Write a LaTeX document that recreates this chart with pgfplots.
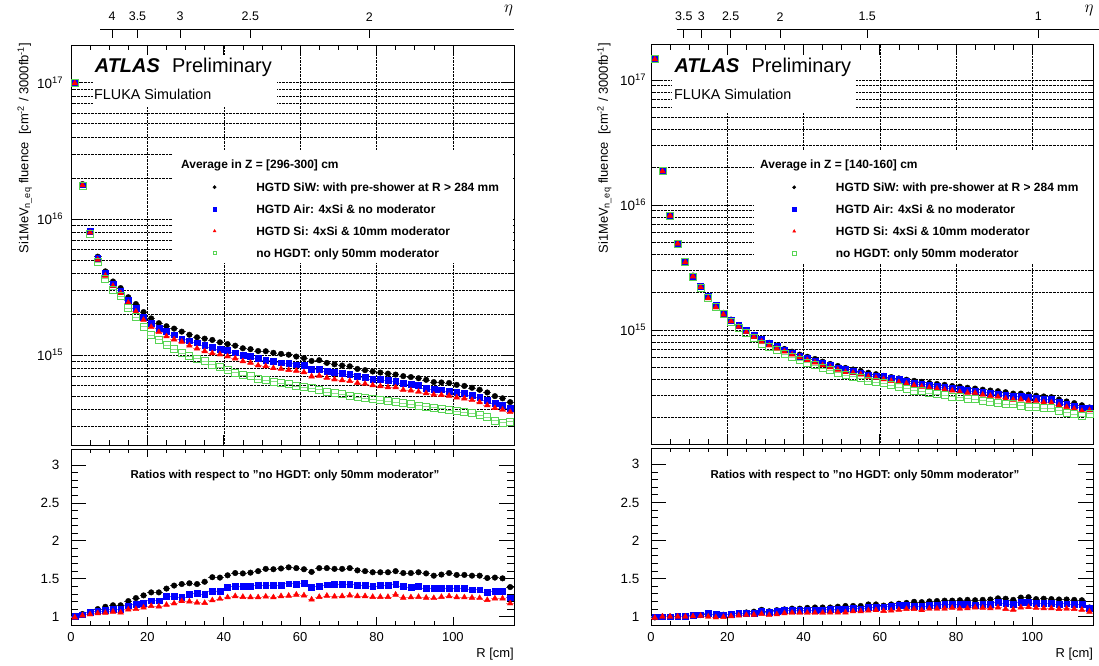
\documentclass[border=0pt]{standalone}
\usepackage{fontspec}
\setmainfont{Liberation Sans}
\usepackage{pgfplots}
\usepackage{pgfplotstable}
\pgfplotsset{compat=1.18}

\definecolor{rootgreen}{RGB}{89,212,84}
\newcommand\fsz[1]{\fontsize{#1}{#1}\selectfont}

% fluence in units of 1e15 cm^-2 / 3000 fb^-1
% g = no HGTD, k = HGTD SiW, b = HGTD Air, r = HGTD Si ; qk qb qr = ratios to g
\pgfplotstableread{
R g k b r qk qb qr
1 100 100 101 99 1.0 1.01 0.99
3 17.4 18.0 17.8 17.66 1.035 1.025 1.015
5 7.7 8.16 8.12 7.93 1.06 1.055 1.03
7 4.8 5.28 5.14 5.02 1.10 1.07 1.045
9 3.65 4.12 3.98 3.83 1.13 1.09 1.05
11 3.02 3.47 3.32 3.22 1.15 1.10 1.065
13 2.70 3.105 2.97 2.85 1.15 1.10 1.055
15 2.21 2.66 2.53 2.42 1.205 1.145 1.095
17 1.90 2.37 2.20 2.09 1.245 1.16 1.10
19 1.62 2.07 1.91 1.814 1.28 1.18 1.12
21 1.41 1.86 1.706 1.607 1.32 1.21 1.14
23 1.30 1.716 1.573 1.476 1.32 1.21 1.135
25 1.19 1.63 1.505 1.374 1.37 1.265 1.155
27 1.11 1.565 1.41 1.304 1.41 1.27 1.175
29 1.04 1.487 1.305 1.253 1.43 1.255 1.205
31 0.98 1.411 1.274 1.176 1.44 1.30 1.20
33 0.945 1.351 1.233 1.12 1.43 1.305 1.185
35 0.905 1.321 1.177 1.068 1.46 1.30 1.18
37 0.85 1.292 1.139 1.033 1.52 1.34 1.215
39 0.82 1.242 1.099 1.013 1.515 1.34 1.235
41 0.78 1.205 1.08 0.979 1.545 1.385 1.255
43 0.745 1.173 1.043 0.946 1.575 1.40 1.27
45 0.715 1.123 1.001 0.901 1.57 1.40 1.26
47 0.70 1.106 0.98 0.879 1.58 1.40 1.255
49 0.67 1.072 0.945 0.841 1.60 1.41 1.255
51 0.655 1.068 0.924 0.829 1.63 1.41 1.265
53 0.64 1.04 0.902 0.803 1.625 1.41 1.255
55 0.625 1.022 0.881 0.794 1.635 1.41 1.27
57 0.61 1.007 0.875 0.778 1.65 1.435 1.275
59 0.595 0.976 0.851 0.768 1.64 1.43 1.29
61 0.585 0.951 0.845 0.749 1.625 1.445 1.28
63 0.57 0.906 0.789 0.698 1.59 1.385 1.225
65 0.56 0.918 0.787 0.706 1.64 1.405 1.26
67 0.535 0.877 0.76 0.682 1.64 1.42 1.275
69 0.525 0.856 0.751 0.664 1.63 1.43 1.265
71 0.515 0.839 0.734 0.654 1.63 1.425 1.27
73 0.505 0.828 0.72 0.646 1.64 1.425 1.28
75 0.492 0.792 0.696 0.625 1.61 1.415 1.27
77 0.485 0.776 0.686 0.616 1.60 1.415 1.27
79 0.478 0.758 0.669 0.602 1.585 1.40 1.26
81 0.47 0.745 0.663 0.592 1.585 1.41 1.26
83 0.462 0.732 0.651 0.582 1.585 1.41 1.26
85 0.45 0.72 0.644 0.581 1.60 1.43 1.29
87 0.445 0.701 0.623 0.556 1.575 1.40 1.25
89 0.438 0.69 0.609 0.55 1.575 1.39 1.255
91 0.427 0.677 0.598 0.538 1.585 1.40 1.26
93 0.42 0.659 0.575 0.525 1.57 1.37 1.25
95 0.412 0.634 0.564 0.513 1.54 1.37 1.245
97 0.405 0.630 0.557 0.51 1.555 1.375 1.26
99 0.397 0.625 0.546 0.504 1.575 1.375 1.27
101 0.39 0.605 0.536 0.489 1.55 1.375 1.255
103 0.383 0.594 0.525 0.481 1.55 1.37 1.255
105 0.374 0.576 0.507 0.468 1.54 1.355 1.25
107 0.362 0.557 0.491 0.451 1.54 1.355 1.245
109 0.352 0.532 0.465 0.429 1.51 1.32 1.22
111 0.33 0.50 0.442 0.409 1.515 1.34 1.24
113 0.32 0.482 0.429 0.397 1.505 1.34 1.24
115 0.325 0.452 0.406 0.382 1.39 1.25 1.175
}\fluL

\pgfplotstableread{
R g k b r qk qb qr
1 148 147 148 146 0.99 1.0 0.985
3 18.6 18.6 18.6 18.6 1.0 1.0 1.0
5 8.2 8.2 8.2 8.2 1.0 1.0 1.0
7 4.9 4.9 4.92 4.9 1.0 1.005 1.0
9 3.48 3.5 3.51 3.48 1.005 1.01 1.0
11 2.67 2.72 2.71 2.68 1.02 1.015 1.005
13 2.18 2.22 2.23 2.20 1.02 1.025 1.01
15 1.795 1.84 1.867 1.795 1.025 1.04 1.0
17 1.53 1.57 1.584 1.515 1.025 1.035 0.99
19 1.337 1.37 1.37 1.33 1.025 1.025 0.995
21 1.169 1.21 1.204 1.175 1.035 1.03 1.005
23 1.043 1.09 1.09 1.059 1.045 1.045 1.015
25 0.943 0.995 0.99 0.962 1.055 1.05 1.02
27 0.859 0.915 0.902 0.88 1.065 1.05 1.025
29 0.78 0.85 0.839 0.807 1.09 1.075 1.035
31 0.738 0.79 0.782 0.753 1.07 1.06 1.02
33 0.691 0.75 0.739 0.712 1.085 1.07 1.03
35 0.644 0.705 0.696 0.673 1.095 1.08 1.045
37 0.606 0.67 0.658 0.636 1.105 1.085 1.05
39 0.575 0.635 0.621 0.604 1.105 1.08 1.05
41 0.547 0.61 0.596 0.574 1.115 1.09 1.05
43 0.523 0.586 0.567 0.549 1.12 1.085 1.05
45 0.498 0.558 0.543 0.523 1.12 1.09 1.05
47 0.478 0.535 0.523 0.504 1.12 1.095 1.055
49 0.456 0.515 0.499 0.481 1.13 1.095 1.055
51 0.436 0.497 0.482 0.46 1.14 1.105 1.055
53 0.424 0.483 0.471 0.454 1.14 1.11 1.07
55 0.412 0.47 0.455 0.441 1.14 1.105 1.07
57 0.392 0.455 0.439 0.423 1.16 1.12 1.08
59 0.382 0.443 0.428 0.414 1.16 1.12 1.085
61 0.376 0.43 0.425 0.404 1.145 1.13 1.075
63 0.362 0.42 0.411 0.391 1.16 1.135 1.08
65 0.35 0.41 0.403 0.382 1.17 1.15 1.09
67 0.339 0.40 0.39 0.373 1.18 1.15 1.10
69 0.328 0.392 0.374 0.361 1.195 1.14 1.10
71 0.324 0.385 0.369 0.352 1.19 1.14 1.085
73 0.313 0.376 0.362 0.346 1.20 1.155 1.105
75 0.307 0.37 0.355 0.339 1.205 1.155 1.105
77 0.301 0.364 0.349 0.333 1.21 1.16 1.105
79 0.294 0.356 0.341 0.328 1.21 1.16 1.115
81 0.29 0.352 0.336 0.32 1.215 1.16 1.105
83 0.283 0.345 0.328 0.314 1.22 1.16 1.11
85 0.28 0.34 0.323 0.314 1.215 1.155 1.12
87 0.273 0.333 0.318 0.304 1.22 1.165 1.115
89 0.268 0.328 0.312 0.297 1.225 1.165 1.11
91 0.261 0.324 0.309 0.292 1.24 1.185 1.12
93 0.257 0.318 0.302 0.283 1.235 1.175 1.10
95 0.254 0.31 0.296 0.277 1.22 1.165 1.09
97 0.248 0.31 0.295 0.278 1.25 1.19 1.12
99 0.242 0.304 0.288 0.272 1.255 1.19 1.125
101 0.242 0.298 0.286 0.27 1.23 1.18 1.115
103 0.238 0.294 0.281 0.264 1.235 1.18 1.11
105 0.236 0.29 0.278 0.262 1.23 1.18 1.11
107 0.227 0.278 0.264 0.25 1.225 1.165 1.10
109 0.219 0.268 0.256 0.242 1.225 1.17 1.105
111 0.213 0.26 0.248 0.234 1.22 1.165 1.10
113 0.206 0.25 0.239 0.225 1.215 1.16 1.09
115 0.214 0.24 0.238 0.228 1.12 1.11 1.065
}\fluR

\pgfplotsset{
  hgtdk/.style={only marks, black, mark=*, mark size=2.8bp,
      error bars/x dir=both, error bars/x fixed=1, error bars/error mark=none,
      error bars/error bar style={line width=0.5bp, black!70}},
  hgtdb/.style={only marks, blue, mark=square*, mark size=2.9bp,
      error bars/x dir=both, error bars/x fixed=1, error bars/error mark=none,
      error bars/error bar style={line width=0.5bp, blue!60}},
  hgtdr/.style={only marks, red, mark=triangle*, mark size=3.3bp,
      error bars/x dir=both, error bars/x fixed=1, error bars/error mark=none,
      error bars/error bar style={line width=0.5bp, red!50}},
  hgtdg/.style={only marks, rootgreen, mark=square, mark size=3.5bp,
      mark options={line width=0.8bp},
      error bars/x dir=both, error bars/x fixed=1, error bars/error mark=none,
      error bars/error bar style={line width=0.5bp, rootgreen!70}},
}

\begin{document}
\begin{tikzpicture}
\path[use as bounding box] (0,0) rectangle (1099bp,666bp);

% ---------- left: Z = [296-300] cm ----------
\begin{axis}[ymode=log, scale only axis, width=443bp, height=400bp,
    at={(71bp,221bp)}, anchor=south west,
    xmin=0, xmax=116, ymin=0.219, ymax=188.8,
    xtick={0,20,40,60,80,100}, xticklabels={}, minor x tick num=3,
    ytick={1,10,100},
    yticklabels={10\textsuperscript{15},10\textsuperscript{16},10\textsuperscript{17}},
    minor ytick={0.3,0.4,0.5,0.6,0.7,0.8,0.9,2,3,4,5,6,7,8,9,20,30,40,50,60,70,80,90},
    yticklabel style={font=\fsz{13.5}, inner sep=0pt, xshift=-7.7bp},
    axis line style={line width=0.9bp},
    tick style={line width=0.6bp, black}, tick align=inside,
    major tick length=10bp, minor tick length=5bp,
    xmajorgrids, ymajorgrids, yminorgrids,
    major grid style={densely dotted, line width=0.5bp, black},
    minor grid style={densely dotted, line width=0.5bp, black},
    legend cell align=left,
    legend image post style={mark size=1.7bp, yshift=1bp},
    legend style={draw=none, fill=none, inner sep=0pt, anchor=north west,
      at={(0.3199,0.6565)}, column sep=40bp, row sep=10.9bp,
      nodes={inner sep=0pt, text height=8.6bp, text depth=2.5bp, font=\bfseries\fsz{12}},
      cells={anchor=west}}]
  % white backgrounds of the label and legend boxes
  \fill[white] (axis cs:5.75,158.6) rectangle (axis cs:53.9,65.9);
  \fill[white] (axis cs:26.7,31.8) rectangle (axis cs:115.8,4.72);
  \addplot[hgtdk] table[x=R,y=k]{\fluL};
  \addlegendentry{HGTD SiW: with pre-shower at R > 284 mm}
  \addplot[hgtdb] table[x=R,y=b]{\fluL};
  \addlegendentry{HGTD Air: 4xSi \& no moderator}
  \addplot[hgtdr] table[x=R,y=r]{\fluL};
  \addlegendentry{HGTD Si: 4xSi \& 10mm moderator}
  \addplot[hgtdg] table[x=R,y=g]{\fluL};
  \addlegendentry{no HGDT: only 50mm moderator}
\end{axis}

\begin{axis}[scale only axis, width=443bp, height=176bp,
    at={(71bp,41bp)}, anchor=south west,
    xmin=0, xmax=116, ymin=0.89, ymax=3.21,
    xtick={0,20,40,60,80,100}, xticklabels={0,20,40,60,80,100}, minor x tick num=3,
    ytick={1,1.5,2,2.5,3}, yticklabels={1,1.5,2,2.5,3}, minor y tick num=4,
    axis line style={line width=0.9bp},
    tick style={line width=0.6bp, black}, tick align=inside,
    major tick length=8bp, minor tick length=4bp,
    every major y tick/.append style={/pgfplots/major tick length=15bp},
    every minor y tick/.append style={/pgfplots/minor tick length=7bp},
    xticklabel style={font=\fsz{13}, inner sep=0pt, yshift=-7bp},
    yticklabel style={font=\fsz{13.5}, inner sep=0pt, xshift=-11.5bp}]
  \addplot[hgtdk] table[x=R,y=qk]{\fluL};
  \addplot[hgtdb] table[x=R,y=qb]{\fluL};
  \addplot[hgtdr] table[x=R,y=qr]{\fluL};
\end{axis}

% ---------- right: Z = [140-160] cm ----------
\begin{axis}[ymode=log, scale only axis, width=442.3bp, height=399.3bp,
    at={(651bp,222bp)}, anchor=south west,
    xmin=0, xmax=116, ymin=0.1225, ymax=191,
    xtick={0,20,40,60,80,100}, xticklabels={}, minor x tick num=3,
    ytick={1,10,100},
    yticklabels={10\textsuperscript{15},10\textsuperscript{16},10\textsuperscript{17}},
    minor ytick={0.2,0.3,0.4,0.5,0.6,0.7,0.8,0.9,2,3,4,5,6,7,8,9,20,30,40,50,60,70,80,90},
    yticklabel style={font=\fsz{13.5}, inner sep=0pt, xshift=-4.7bp},
    axis line style={line width=0.9bp},
    tick style={line width=0.6bp, black}, tick align=inside,
    major tick length=10bp, minor tick length=5bp,
    xmajorgrids, ymajorgrids, yminorgrids,
    major grid style={densely dotted, line width=0.5bp, black},
    minor grid style={densely dotted, line width=0.5bp, black},
    legend cell align=left,
    legend image post style={mark size=1.7bp, yshift=1bp},
    legend style={draw=none, fill=none, inner sep=0pt, anchor=north west,
      at={(0.3195,0.6548)}, column sep=40bp, row sep=10.9bp,
      nodes={inner sep=0pt, text height=8.6bp, text depth=2.5bp, font=\bfseries\fsz{12}},
      cells={anchor=west}}]
  % white backgrounds of the label and legend boxes
  \fill[white] (axis cs:5.5,158) rectangle (axis cs:53.7,54.5);
  \fill[white] (axis cs:26.9,27.5) rectangle (axis cs:115.8,3.44);
  \addplot[hgtdk] table[x=R,y=k]{\fluR};
  \addlegendentry{HGTD SiW: with pre-shower at R > 284 mm}
  \addplot[hgtdb] table[x=R,y=b]{\fluR};
  \addlegendentry{HGTD Air: 4xSi \& no moderator}
  \addplot[hgtdr] table[x=R,y=r]{\fluR};
  \addlegendentry{HGTD Si: 4xSi \& 10mm moderator}
  \addplot[hgtdg] table[x=R,y=g]{\fluR};
  \addlegendentry{no HGDT: only 50mm moderator}
\end{axis}

\begin{axis}[scale only axis, width=442.3bp, height=176.7bp,
    at={(651bp,41bp)}, anchor=south west,
    xmin=0, xmax=116, ymin=0.89, ymax=3.21,
    xtick={0,20,40,60,80,100}, xticklabels={0,20,40,60,80,100}, minor x tick num=3,
    ytick={1,1.5,2,2.5,3}, yticklabels={1,1.5,2,2.5,3}, minor y tick num=4,
    axis line style={line width=0.9bp},
    tick style={line width=0.6bp, black}, tick align=inside,
    major tick length=8bp, minor tick length=4bp,
    every major y tick/.append style={/pgfplots/major tick length=15bp},
    every minor y tick/.append style={/pgfplots/minor tick length=7bp},
    xticklabel style={font=\fsz{13}, inner sep=0pt, yshift=-7bp},
    yticklabel style={font=\fsz{13.5}, inner sep=0pt, xshift=-11.5bp}]
  \addplot[hgtdk] table[x=R,y=qk]{\fluR};
  \addplot[hgtdb] table[x=R,y=qb]{\fluR};
  \addplot[hgtdr] table[x=R,y=qr]{\fluR};
\end{axis}

% ---------- texts, eta scales ----------
\begin{scope}[x=1bp,y=1bp]
  \node[anchor=base west, inner sep=0pt, font=\bfseries\itshape\fsz{20}] at (94.7,593.8) {ATLAS};
  \node[anchor=base west, inner sep=0pt, font=\fsz{20}] at (172,593.8) {Preliminary};
  \node[anchor=base west, inner sep=0pt, font=\fsz{14.4}] at (94,566.5) {FLUKA Simulation};
  \node[anchor=base west, inner sep=0pt, font=\bfseries\fsz{12}] at (181,497) {Average in Z = [296-300] cm};
  \node[anchor=base west, inner sep=0pt, font=\bfseries\fsz{11.5}] at (130.5,188) {Ratios with respect to \char34 no HGDT: only 50mm moderator\char34};

  \node[anchor=base west, inner sep=0pt, font=\bfseries\itshape\fsz{20}] at (674.3,593.8) {ATLAS};
  \node[anchor=base west, inner sep=0pt, font=\fsz{20}] at (751.3,593.8) {Preliminary};
  \node[anchor=base west, inner sep=0pt, font=\fsz{14.4}] at (674,566.5) {FLUKA Simulation};
  \node[anchor=base west, inner sep=0pt, font=\bfseries\fsz{12}] at (760,497) {Average in Z = [140-160] cm};
  \node[anchor=base west, inner sep=0pt, font=\bfseries\fsz{11.5}] at (710.4,188) {Ratios with respect to \char34 no HGDT: only 50mm moderator\char34};

  \foreach \xx in {28.3,607.9}{
    \node[rotate=90, anchor=base east, inner sep=0pt, font=\fsz{13}] at (\xx,623.3)
      {Si1MeV\textsubscript{n\_eq} fluence\ \ [cm\textsuperscript{-2} / 3000fb\textsuperscript{-1}]};
  }
  \node[anchor=base east, inner sep=0pt, font=\fsz{13}] at (514,8.4) {R [cm]};
  \node[anchor=base east, inner sep=0pt, font=\fsz{13}] at (1093.3,8.4) {R [cm]};

  % eta scale, left
  \draw[line width=0.8bp] (100,636.7) -- (514,636.7);
  \foreach \xx/\ll in {112/4,137.5/3.5,180/3,250.4/2.5,369.3/2}{
    \draw[line width=0.8bp] (\xx,636.7) -- (\xx,627.7);
    \node[inner sep=0pt, font=\fsz{12.5}] at (\xx,649.3) {\ll};
  }
  \node[inner sep=0pt, font=\fsz{17}] at (508.6,656) {$\eta$};
  % eta scale, right
  \draw[line width=0.8bp] (676.7,636.7) -- (1099,636.7);
  \foreach \xx/\ll in {683.8/3.5,701.3/3,730.7/2.5,780/2,867.2/1.5,1038.4/1}{
    \draw[line width=0.8bp] (\xx,636.7) -- (\xx,627.7);
    \node[inner sep=0pt, font=\fsz{12.5}] at (\xx,649.3) {\ll};
  }
  \node[inner sep=0pt, font=\fsz{17}] at (1089,656) {$\eta$};
\end{scope}
\end{tikzpicture}
\end{document}
